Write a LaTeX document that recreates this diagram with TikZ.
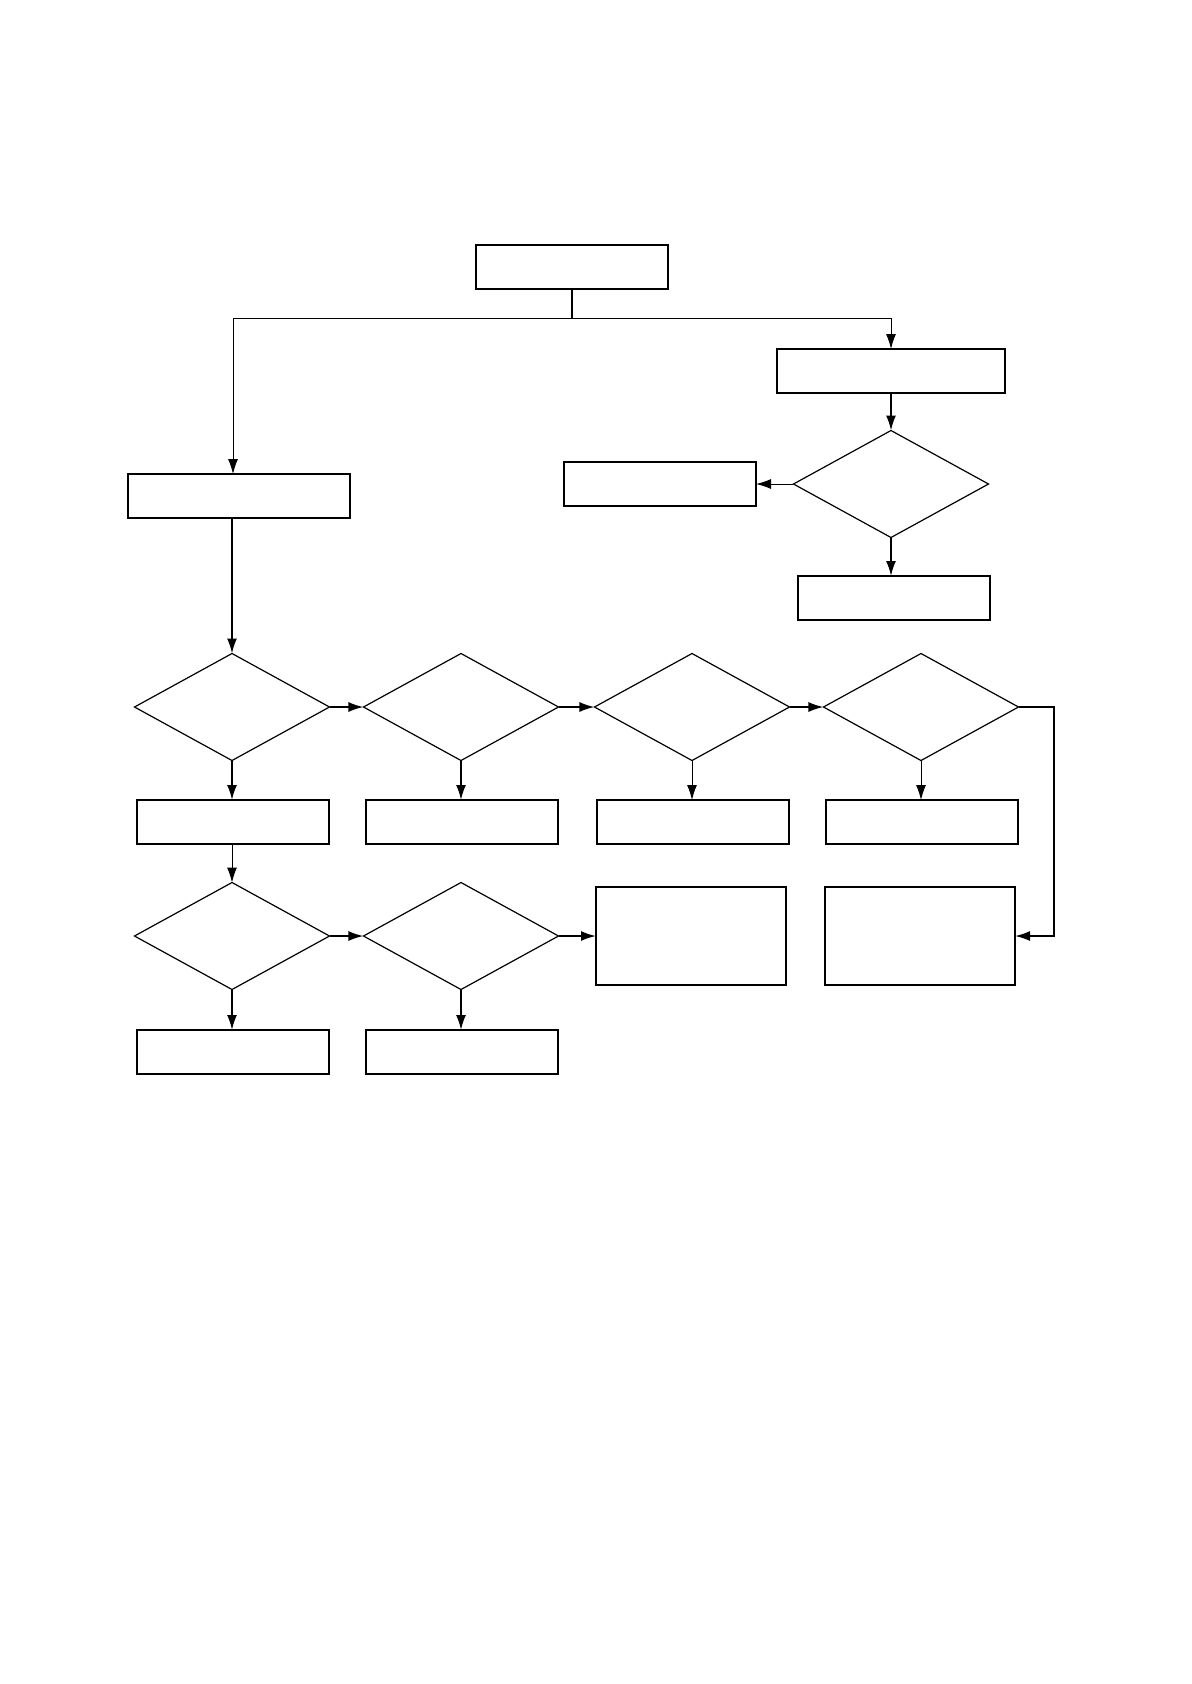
\documentclass[tikz,border=0pt]{standalone}
\usepackage{tikz}
\usetikzlibrary{arrows.meta,shapes.geometric}
\begin{document}
\begin{tikzpicture}[
  x=0.5bp,y=-0.5bp,
  box/.style={draw,line width=0.8bp,minimum width=96bp,minimum height=22bp,
              inner sep=0pt,outer sep=0pt},
  bigbox/.style={box,minimum width=95bp,minimum height=49bp},
  dec/.style={draw,diamond,line width=0.6bp,minimum width=97.5bp,
              minimum height=53.5bp,inner sep=0pt,outer sep=0pt},
  arr/.style={-{Latex[length=7.5bp,width=5bp]},line width=0.9bp},
  tarr/.style={-{Latex[length=7.5bp,width=5bp]},line width=0.5bp}
]
\useasboundingbox (0,0) rectangle (1192,1684);
\node[box] (start) at (572,267) {};
\node[box,minimum width=114bp] (chk) at (891,371) {};
\node[dec] (q0) at (891,484) {};
\node[box] (rej) at (660,484) {};
\node[box] (acc) at (894,598) {};
\node[box,minimum width=111bp] (prep) at (239,496) {};
\node[dec] (q1) at (232,707) {};
\node[dec] (q2) at (461,707) {};
\node[dec] (q3) at (692,707) {};
\node[dec] (q4) at (921,707) {};
\node[box] (r1) at (233,822) {};
\node[box] (r2) at (462,822) {};
\node[box] (r3) at (693,822) {};
\node[box] (r4) at (922,822) {};
\node[dec] (q5) at (232,936) {};
\node[dec] (q6) at (461,936) {};
\node[bigbox] (c1) at (691,936) {};
\node[bigbox] (c2) at (920,936) {};
\node[box] (e1) at (233,1052) {};
\node[box] (e2) at (462,1052) {};
\coordinate (split) at (572,318);
\coordinate (lft) at (233,318);
\coordinate (loop) at (1054,707);
\draw[line width=0.9bp] (start) -- (split);
\draw[tarr] (split) -- (lft) -- (lft |- prep.north);
\draw[tarr] (split) -| (chk.north);
\draw[arr] (chk) -- (q0);
\draw[tarr] (q0) -- (rej);
\draw[arr] (q0) -- (q0.south |- acc.north);
\draw[arr] (q1.north |- prep.south) -- (q1.north);
\draw[arr] (q1) -- (q2);
\draw[arr] (q2) -- (q3);
\draw[arr] (q3) -- (q4);
\draw[arr] (q1) -- (q1.south |- r1.north);
\draw[arr] (q2) -- (q2.south |- r2.north);
\draw[tarr] (q3) -- (q3.south |- r3.north);
\draw[tarr] (q4) -- (q4.south |- r4.north);
\draw[arr] (q4.east) -- (loop) |- (c2.east);
\draw[tarr] (q5.north |- r1.south) -- (q5.north);
\draw[arr] (q5) -- (q6);
\draw[arr] (q6) -- (c1);
\draw[arr] (q5) -- (q5.south |- e1.north);
\draw[arr] (q6) -- (q6.south |- e2.north);
\end{tikzpicture}
\end{document}
